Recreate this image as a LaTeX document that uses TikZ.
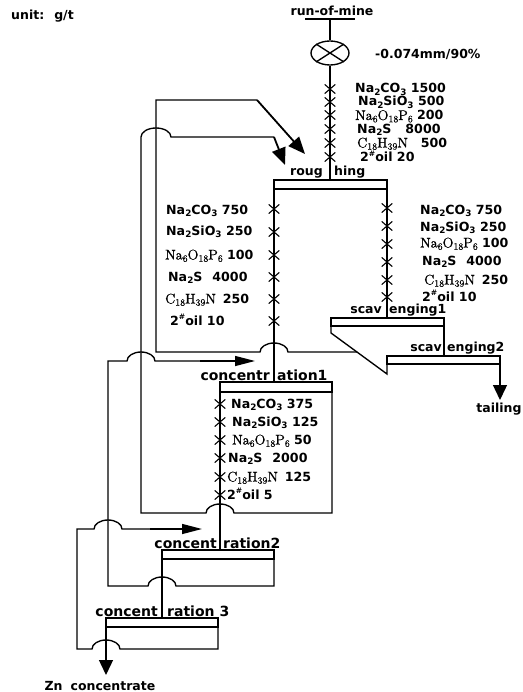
\documentclass[tikz,border=0pt]{standalone}
\usepackage{fontspec}
\setsansfont{DejaVu Sans}
\newfontfamily\srfont{lmroman10-regular.otf}[FakeBold=0.6]
\usetikzlibrary{arrows.meta,shapes.geometric,shapes.misc}
\newcommand\lo[1]{\raisebox{-0.16em}{\scalebox{0.7}{#1}}}
\newcommand\hsh{\raisebox{0.45em}{\scalebox{0.6}{\#}}}
\newcommand\sr[1]{{\srfont\fontsize{14}{14}\selectfont #1}}
\begin{document}
\begin{tikzpicture}[x=1pt,y=-1pt,
  ln/.style={line width=1.35pt},
  thick arrow/.style={line width=1.8pt,-{Triangle[length=17pt,width=14pt]}},
  harrow/.style={line width=1.35pt,-{Triangle[length=20pt,width=10pt]}},
  varrow/.style={line width=1.35pt,-{Triangle[length=15pt,width=14pt]}},
  xm/.style={draw,cross out,minimum width=9.5pt,minimum height=8pt,inner sep=0pt,line width=1.1pt},
  rg/.style={font=\sffamily\bfseries\fontsize{12.6}{13}\selectfont,inner sep=0pt,anchor=base west},
  lbl/.style={font=\sffamily\bfseries\fontsize{12.5}{13}\selectfont,inner sep=0pt},
  big/.style={font=\sffamily\bfseries\fontsize{14}{15}\selectfont,inner sep=0pt}]
\path[use as bounding box] (0,0) rectangle (522,692);

% ---- texts
\node[lbl,anchor=base west] (unit) at (11,20) {unit:\hspace{10pt}g/t};
\node[lbl,anchor=base] (rom) at (332,16) {run-of-mine};
\node[lbl,anchor=base west] (size) at (375,59) {-0.074mm/90\%};

% ---- feed and grinding
\coordinate (ulA) at (305,19);
\coordinate (ulB) at (355,19);
\coordinate (feedtop) at (330,19);
\node[draw,ellipse,ln,minimum width=38pt,minimum height=24pt,inner sep=0pt] (g) at (330,53) {};
\draw[ln] (ulA) -- (ulB);
\draw[ln] (feedtop) -- (g.north);
\draw[ln] (g.north west) -- (g.south east) (g.north east) -- (g.south west);

% ---- roughing
\coordinate (rTL) at (274,180);
\coordinate (rBR) at (387,189);
\coordinate (rL) at (274,189);
\coordinate (rR) at (387,189);
\coordinate (rTop) at (330,180);
\draw[ln] (rTL) rectangle (rBR);
\draw[ln] (g.south) -- (rTop);
\node[lbl,anchor=base east] (rough1) at (323,176) {roug};
\node[lbl,anchor=base west] (rough2) at (334,176) {hing};

\foreach \y [count=\i] in {89,102,115,129,143,157} \node[xm] (fx\i) at (330,\y) {};
\node[rg] (f1) at (355,93) {Na\lo2CO\lo3 1500};
\node[rg] (f2) at (358,106) {Na\lo2SiO\lo3 500};
\node[rg] (f3) at (355,120) {\sr{Na\lo6O\lo{18}P\lo6} 200};
\node[rg] (f4) at (357,133.5) {Na\lo2S\hspace{14pt}8000};
\node[rg] (f5) at (357,147.5) {\sr{C\lo{18}H\lo{39}N}\hspace{13pt}500};
\node[rg] (f6) at (360,162) {2\hsh oil 20};

% ---- roughing -> concentration1 (left) with reagents
\coordinate (c1TL) at (220,382);
\coordinate (c1BR) at (332,392);
\coordinate (c1in) at (274,382);
\draw[ln] (rL) -- (c1in);
\foreach \y [count=\i] in {209,232,255,277,299,321} \node[xm] (lx\i) at (274,\y) {};
\node[rg] (l1) at (166,214.5) {Na\lo2CO\lo3 750};
\node[rg] (l2) at (166,235.5) {Na\lo2SiO\lo3 250};
\node[rg] (l3) at (165,259.5) {\sr{Na\lo6O\lo{18}P\lo6} 100};
\node[rg] (l4) at (168,281.5) {Na\lo2S\hspace{10pt}4000};
\node[rg] (l5) at (165,303.5) {\sr{C\lo{18}H\lo{39}N}\hspace{7pt}250};
\node[rg] (l6) at (170,325.5) {2\hsh oil 10};

% ---- roughing -> scavenging1 (right) with reagents
\coordinate (s1TL) at (331,318);
\coordinate (s1BR) at (444,326);
\coordinate (s1in) at (387,318);
\draw[ln] (rR) -- (s1in);
\foreach \y [count=\i] in {208,226,244,262,280,297} \node[xm] (rx\i) at (387,\y) {};
\node[rg] (r1) at (420,214.5) {Na\lo2CO\lo3 750};
\node[rg] (r2) at (420,231.5) {Na\lo2SiO\lo3 250};
\node[rg] (r3) at (420,247.5) {\sr{Na\lo6O\lo{18}P\lo6} 100};
\node[rg] (r4) at (422,265.5) {Na\lo2S\hspace{10pt}4000};
\node[rg] (r5) at (424,284.5) {\sr{C\lo{18}H\lo{39}N}\hspace{7pt}250};
\node[rg] (r6) at (422,301.5) {2\hsh oil 10};

% ---- scavenging 1 and 2
\draw[ln] (s1TL) rectangle (s1BR);
\coordinate (s1a) at (331,326);
\coordinate (s1b) at (331,333);
\coordinate (s1c) at (387,374);
\coordinate (s2TL) at (387,356);
\coordinate (s2BR) at (500,364);
\coordinate (s1R) at (444,326);
\coordinate (s2in) at (444,356);
\coordinate (tailA) at (500,364);
\coordinate (tailB) at (500,400);
\draw[ln] (s1a) -- (s1b) -- (s1c) -- (s2TL);
\draw[ln] (s1R) -- (s2in);
\draw[ln] (s2TL) rectangle (s2BR);
\draw[varrow] (tailA) -- (tailB);
\node[lbl,anchor=base east] (sc1a) at (382,313) {scav};
\node[lbl,anchor=base west] (sc1b) at (389,313) {enging1};
\node[lbl,anchor=base east] (sc2a) at (442,351) {scav};
\node[lbl,anchor=base west] (sc2b) at (447,351) {enging2};
\node[lbl,anchor=base] (tail) at (499,412) {tailing};

% ---- scavenging1 concentrate -> roughing
\coordinate (s1out) at (357,352);
\coordinate (ret1) at (257,100);
\coordinate (rin1) at (305,154);
\draw[ln] (s1out) -- (288,352) arc[start angle=0,end angle=180,x radius=14pt,y radius=9pt]
  -- (156,352) -- (156,100) -- (ret1);
\draw[thick arrow] (ret1) -- (rin1);

% ---- concentration1
\draw[ln] (c1TL) rectangle (c1BR);
\node[big,anchor=base east] (cn1a) at (270,380) {concentr};
\node[big,anchor=base west] (cn1b) at (277,380) {ation1};
\coordinate (c1L) at (220,392);
\coordinate (c2in) at (220,550);
\draw[ln] (c1L) -- (c2in);
\foreach \y [count=\i] in {404,422,440,458,477,495} \node[xm] (cx\i) at (220,\y) {};
\node[rg] (k1) at (231,408.5) {Na\lo2CO\lo3 375};
\node[rg] (k2) at (232,426.5) {Na\lo2SiO\lo3 125};
\node[rg] (k3) at (232,444.5) {\sr{Na\lo6O\lo{18}P\lo6} 50};
\node[rg] (k4) at (228,462.5) {Na\lo2S\hspace{10pt}2000};
\node[rg] (k5) at (227,481.5) {\sr{C\lo{18}H\lo{39}N}\hspace{7pt}125};
\node[rg] (k6) at (227,499.5) {2\hsh oil 5};

% ---- concentration1 tailing -> roughing
\coordinate (c1R) at (332,392);
\coordinate (ret2) at (274,137);
\coordinate (rin2) at (285,165);
\draw[ln] (c1R) -- (332,513) -- (234,513) arc[start angle=0,end angle=180,x radius=14pt,y radius=9pt]
  -- (141,513) -- (141,137) arc[start angle=180,end angle=0,x radius=15pt,y radius=9pt] -- (ret2);
\draw[thick arrow] (ret2) -- (rin2);

% ---- concentration2
\coordinate (c2TL) at (162,550);
\coordinate (c2BR) at (274,559);
\draw[ln] (c2TL) rectangle (c2BR);
\node[big,anchor=base east] (cn2a) at (217,548) {concent};
\node[big,anchor=base west] (cn2b) at (223,548) {ration2};
\coordinate (c2L) at (162,559);
\coordinate (c3in) at (162,618);
\draw[ln] (c2L) -- (c3in);
\coordinate (c2R) at (274,559);
\coordinate (c1ret) at (255,361);
\draw[ln] (c2R) -- (274,586) -- (176,586) arc[start angle=0,end angle=180,x radius=14pt,y radius=9pt]
  -- (108,586) -- (108,361) -- (127,361) arc[start angle=180,end angle=0,x radius=14pt,y radius=9pt] -- (200,361);
\draw[harrow] (200,361) -- (c1ret);

% ---- concentration3
\coordinate (c3TL) at (106,618);
\coordinate (c3BR) at (218,627);
\draw[ln] (c3TL) rectangle (c3BR);
\node[big,anchor=base east] (cn3a) at (158,616) {concent};
\node[big,anchor=base west] (cn3b) at (167,616) {ration 3};
\coordinate (c3R) at (218,627);
\coordinate (c2ret) at (202,529);
\draw[ln] (c3R) -- (218,649) -- (120,649) arc[start angle=0,end angle=180,x radius=14pt,y radius=9pt]
  -- (77,649) -- (77,529) -- (94,529) arc[start angle=180,end angle=0,x radius=14pt,y radius=9pt] -- (150,529);
\draw[harrow] (150,529) -- (c2ret);
\coordinate (c3L) at (106,627);
\coordinate (znA) at (106,675);
\draw[varrow] (c3L) -- (znA);
\node[lbl,anchor=base] (zn) at (100,690) {Zn\hspace{8pt}concentrate};
\end{tikzpicture}
\end{document}
